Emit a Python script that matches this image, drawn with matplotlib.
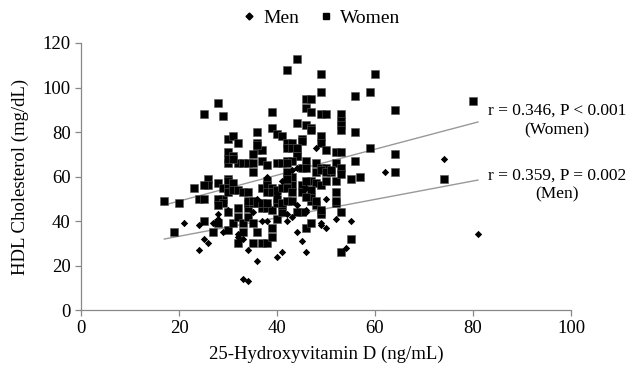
import matplotlib
matplotlib.use("Agg")
import matplotlib.pyplot as plt
from matplotlib.lines import Line2D

plt.rcParams['font.family'] = ['Liberation Serif', 'DejaVu Serif']

women_x = [44, 42, 28, 25, 29, 39, 46, 46, 44, 46, 36, 39, 40, 41, 42, 43, 45, 30, 31, 32,
           36, 42, 44, 30, 36, 37, 35, 31, 44, 46, 30, 32, 33, 34, 35, 37, 38, 40, 41, 42,
           45, 35, 26, 30, 42, 43,
           49, 60, 49, 56, 59, 80, 47, 64, 47, 49, 50, 53, 53, 53, 53, 47, 56, 49, 49, 50,
           59, 52, 53, 64, 56, 46, 48, 49, 50, 52, 53, 64, 74, 55, 57, 51,
           53, 55, 53, 52, 52, 48, 47, 46, 49, 45, 47, 48, 45, 47, 49, 49, 44,
           32, 33, 35, 36, 37, 38, 39, 39, 40, 25, 27, 28, 30, 30, 31, 32, 32, 33, 34, 35,
           34, 34, 35, 37, 38, 39, 41, 41, 40,
           36, 30, 31, 23, 26, 25, 28, 29, 30, 30, 31, 29, 30, 31, 24, 25, 28, 29, 28, 32,
           33, 34, 37, 38, 38, 39, 38, 39, 40, 41, 42, 34, 35, 36, 37, 38, 40, 41,
           47, 45, 43, 44, 44, 43, 42, 42, 49, 50, 51, 52, 53, 47, 46, 48, 49, 50, 43, 42,
           47, 42, 43, 45, 42, 43, 46, 48, 52,
           17, 20, 19]
women_y = [113, 108, 93, 88, 87, 89, 95, 91, 84, 83, 80, 82, 79, 78, 75, 75, 77, 77, 78, 75,
           75, 73, 72, 71, 72, 72, 70, 69, 69, 67, 66, 66, 66, 66, 66, 67, 65, 66, 66, 67,
           64, 62, 59, 59, 60, 60,
           106, 106, 98, 96, 98, 94, 95, 90, 89, 88, 88, 88, 85, 83, 81, 82, 80, 78, 75, 72,
           73, 71, 71, 70, 67, 64, 66, 64, 64, 66, 64, 62, 59, 59, 60, 62,
           26, 32, 44, 48, 53, 47, 49, 37, 44, 44, 51, 62, 56, 39, 43, 45, 44,
           30, 35, 30, 35, 30, 30, 33, 37, 41, 40, 35, 39, 44, 36, 39, 46, 42, 39, 42, 39,
           46, 48, 48, 46, 46, 45, 44, 47, 48,
           74, 68, 68, 55, 56, 56, 57, 55, 58, 55, 57, 50, 53, 54, 50, 50, 50, 48, 47, 54,
           53, 53, 55, 58, 56, 55, 53, 53, 54, 55, 57, 49, 49, 48, 48, 48, 50, 48,
           81, 76, 73, 73, 69, 67, 66, 62, 63, 62, 63, 58, 61, 58, 58, 57, 56, 58, 56, 59,
           54, 55, 53, 53, 49, 49, 51, 49, 49,
           49, 48, 35]

men_x = [38, 48, 74, 62, 81, 54, 46, 45, 55, 52, 50, 49, 46, 44, 49, 42, 33, 34, 36, 40,
         41, 24, 25, 26, 34, 33, 32, 32, 37, 38, 24, 29, 28, 27, 21, 32, 42, 44, 43, 43,
         46, 36, 40, 44, 30, 35, 41, 46, 50, 28]
men_y = [60, 73, 68, 62, 34, 28, 26, 31, 40, 41, 37, 39, 45, 35, 38, 40, 14, 13, 22, 24,
         26, 27, 32, 30, 27, 32, 34, 33, 40, 40, 38, 35, 43, 39, 39, 46, 43, 64, 63, 42,
         44, 50, 52, 47, 45, 44, 58, 55, 50, 41]

fit_x = [17, 81]
women_fit = [47.2, 84.5]
men_fit = [31.9, 58.4]

fig = plt.figure(figsize=(6.29, 3.71), dpi=100)
ax = fig.add_axes([0.1288, 0.1644, 0.779, 0.7197])

ax.plot(fit_x, women_fit, color='#999999', lw=1.0, zorder=1)
ax.plot(fit_x, men_fit, color='#999999', lw=1.0, zorder=1)
ax.scatter(women_x, women_y, marker='s', s=34, color='black', edgecolors='#555555',
           linewidths=0.4, zorder=2)
ax.scatter(men_x, men_y, marker='D', s=14, color='black', linewidths=0, zorder=3)

ax.set_xlim(0, 100)
ax.set_ylim(0, 120)
ax.set_xticks([0, 20, 40, 60, 80, 100])
ax.set_yticks([0, 20, 40, 60, 80, 100, 120])
for s in ['top', 'right']:
    ax.spines[s].set_visible(False)
for s in ['left', 'bottom']:
    ax.spines[s].set_color('#888888')
    ax.spines[s].set_linewidth(0.9)
ax.tick_params(colors='#888888', labelcolor='black', labelsize=13.5, length=4, width=0.9)
ax.set_xlabel('25-Hydroxyvitamin D (ng/mL)', fontsize=13.5, labelpad=6)
ax.set_ylabel('HDL Cholesterol (mg/dL)', fontsize=13.5, labelpad=10)

ax.text(0.972, 0.71, 'r = 0.346, P < 0.001\n(Women)', transform=ax.transAxes,
        fontsize=12.5, ha='center', va='center', linespacing=1.25, clip_on=False)
ax.text(0.972, 0.467, 'r = 0.359, P = 0.002\n(Men)', transform=ax.transAxes,
        fontsize=12.5, ha='center', va='center', linespacing=1.25, clip_on=False)

handles = [Line2D([], [], marker='D', color='black', ls='none', markersize=3.5),
           Line2D([], [], marker='s', color='black', ls='none', markersize=5)]
fig.legend(handles, ['Men', 'Women'], loc='center', bbox_to_anchor=(0.51, 0.952),
           ncol=2, frameon=False, fontsize=14, handletextpad=0.3, columnspacing=1.0,
           handlelength=0.8)

fig.savefig('out.png', dpi=100)
